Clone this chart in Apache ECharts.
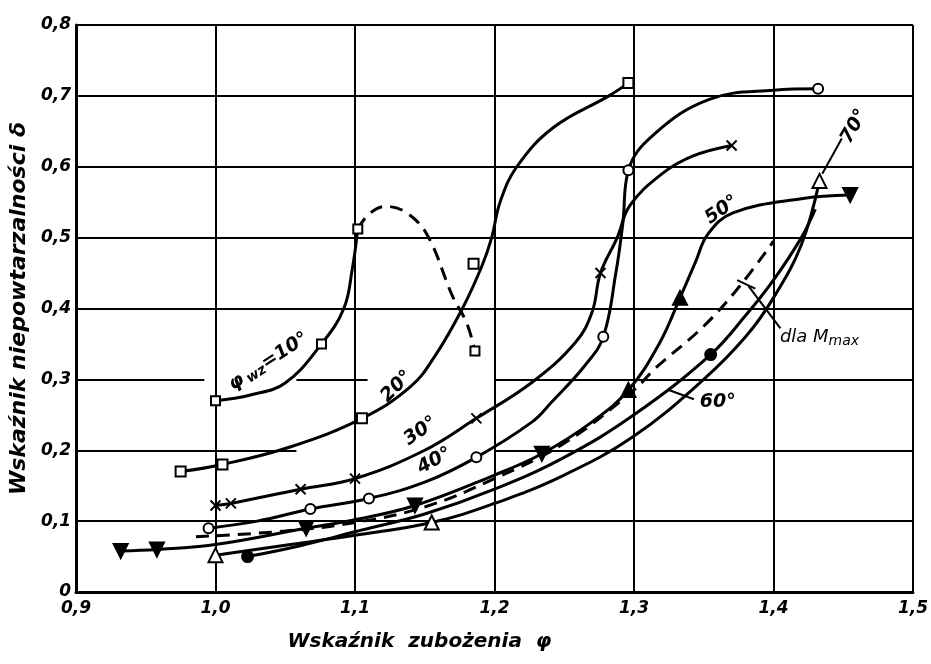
<!DOCTYPE html>
<html>
<head>
<meta charset="utf-8">
<script src="https://cdn.jsdelivr.net/npm/echarts@6/dist/echarts.min.js"></script>
<style>
  html, body { margin: 0; background: #fff; }
  #chart { width: 931px; height: 664px; }
</style>
</head>
<body>
<div id="chart"></div>
<script>
// osie
const xTicks = [0.9, 1.0, 1.1, 1.2, 1.3, 1.4, 1.5]
const yTicks = [0, 0.1, 0.2, 0.3, 0.4, 0.5, 0.6, 0.7, 0.8]
const xTickLabels = ['0,9', '1,0', '1,1', '1,2', '1,3', '1,4', '1,5']
const yTickLabels = ['0', '0,1', '0,2', '0,3', '0,4', '0,5', '0,6', '0,7', '0,8']

// krzywe [φ, δ]
const curve10 = [[1.0, 0.27], [1.025, 0.278], [1.05, 0.295], [1.076, 0.35], [1.092, 0.40], [1.098, 0.455], [1.102, 0.512]]
const curve10Dash = [[1.102, 0.512], [1.11, 0.533], [1.122, 0.544], [1.137, 0.535], [1.152, 0.503], [1.17, 0.417], [1.18, 0.38], [1.186, 0.34]]
const curve20 = [[0.975, 0.17], [1.005, 0.18], [1.054, 0.205], [1.105, 0.245], [1.14, 0.29], [1.158, 0.335], [1.177, 0.40], [1.191, 0.46], [1.198, 0.50], [1.204, 0.55], [1.216, 0.60], [1.242, 0.655], [1.282, 0.70], [1.296, 0.718]]
const curve30 = [[1.0, 0.122], [1.011, 0.125], [1.061, 0.145], [1.1, 0.16], [1.15, 0.2], [1.187, 0.245], [1.227, 0.296], [1.258, 0.352], [1.27, 0.395], [1.276, 0.45], [1.288, 0.5], [1.297, 0.545], [1.32, 0.59], [1.342, 0.615], [1.37, 0.63]]
const curve40 = [[0.995, 0.09], [1.03, 0.1], [1.068, 0.117], [1.11, 0.132], [1.15, 0.155], [1.187, 0.19], [1.227, 0.24], [1.241, 0.268], [1.265, 0.32], [1.278, 0.36], [1.287, 0.45], [1.292, 0.52], [1.296, 0.595], [1.314, 0.645], [1.354, 0.695], [1.4, 0.708], [1.432, 0.71]]
const curve50 = [[0.932, 0.058], [0.958, 0.06], [1.0, 0.067], [1.065, 0.09], [1.1, 0.102], [1.143, 0.122], [1.2, 0.165], [1.234, 0.195], [1.27, 0.24], [1.296, 0.285], [1.318, 0.35], [1.333, 0.415], [1.344, 0.465], [1.353, 0.505], [1.371, 0.535], [1.42, 0.555], [1.455, 0.56]]
const curve60 = [[1.023, 0.05], [1.06, 0.065], [1.1, 0.085], [1.15, 0.11], [1.2, 0.145], [1.25, 0.19], [1.3, 0.25], [1.355, 0.335], [1.38, 0.39], [1.4, 0.44], [1.42, 0.5], [1.43, 0.54]]
const curve70 = [[1.0, 0.052], [1.05, 0.066], [1.1, 0.08], [1.155, 0.098], [1.2, 0.125], [1.25, 0.165], [1.3, 0.22], [1.35, 0.3], [1.38, 0.36], [1.4, 0.415], [1.42, 0.49], [1.433, 0.58]]
const curveMmax = [[0.986, 0.078], [1.05, 0.086], [1.1, 0.098], [1.15, 0.12], [1.2, 0.16], [1.25, 0.21], [1.3, 0.285], [1.315, 0.315], [1.35, 0.375], [1.376, 0.432], [1.4, 0.495]]

// punkty pomiarowe
const marks10 = [[1.0, 0.27], [1.076, 0.35], [1.102, 0.512], [1.186, 0.34]]
const marks20 = [[0.975, 0.17], [1.005, 0.18], [1.105, 0.245], [1.185, 0.463], [1.296, 0.718]]
const marks30 = [[1.0, 0.122], [1.011, 0.125], [1.061, 0.145], [1.1, 0.16], [1.187, 0.245], [1.276, 0.45], [1.37, 0.63]]
const marks40 = [[0.995, 0.09], [1.068, 0.117], [1.11, 0.132], [1.187, 0.19], [1.278, 0.36], [1.296, 0.595], [1.432, 0.71]]
const marks50Down = [[0.932, 0.058], [0.958, 0.06], [1.065, 0.09], [1.143, 0.122], [1.234, 0.195], [1.455, 0.56]]
const marks50Up = [[1.296, 0.285], [1.333, 0.415]]
const marks60 = [[1.023, 0.05], [1.355, 0.335]]
const marks70 = [[1.0, 0.052], [1.155, 0.098], [1.433, 0.58]]

// przerwy w liniach siatki poziomej (miejsce na opisy)
const gridGaps = { 0.2: [[1.058, 1.2]], 0.3: [[0.992, 1.058], [1.109, 1.2]] }

const FONT = '"DejaVu Sans", sans-serif'
const BLACK = '#000'

const chart = echarts.init(document.getElementById('chart'))

const fmt = (labels, ticks) => (v) => {
  const i = ticks.findIndex((t) => Math.abs(t - v) < 1e-6)
  return i >= 0 ? labels[i] : ''
}

const lineSeries = (data, dashed) => ({
  type: 'line',
  data,
  smooth: 0.4,
  symbol: 'none',
  silent: true,
  lineStyle: { color: BLACK, width: 3, type: dashed ? [13, 8] : 'solid' },
  z: 3,
})

const markSeries = (data, symbol, size, filled, extra) => Object.assign({
  type: 'scatter',
  data,
  symbol,
  symbolSize: size,
  silent: true,
  itemStyle: { color: filled ? BLACK : '#fff', borderColor: BLACK, borderWidth: 2, opacity: 1 },
  z: 5,
}, extra || {})

// segmenty siatki poziomej
const gridSegments = []
yTicks.forEach((y) => {
  if (y === 0) return
  const gaps = gridGaps[y] || []
  let start = xTicks[0]
  gaps.forEach(([a, b]) => {
    gridSegments.push({ coords: [[start, y], [a, y]] })
    start = b
  })
  gridSegments.push({ coords: [[start, y], [xTicks[xTicks.length - 1], y]] })
})

// linie odniesienia do opisów
const leaders = [
  { coords: [[1.325, 0.285], [1.343, 0.272]] },
  { coords: [[1.435, 0.59], [1.449, 0.64]] },
  { coords: [[1.382, 0.432], [1.405, 0.372]] },
  { coords: [[1.374, 0.44], [1.387, 0.428]] },
]

const axisFont = { color: BLACK, fontFamily: FONT, fontStyle: 'italic', fontWeight: 'bold', fontSize: 17 }

const option = {
  backgroundColor: '#fff',
  animation: false,
  grid: { left: 70, right: 9, top: 25, bottom: 72 },
  xAxis: {
    type: 'value',
    min: 0.9,
    max: 1.5,
    interval: 0.1,
    name: 'Wskaźnik  zubożenia  φ',
    nameLocation: 'middle',
    nameGap: 40,
    nameTextStyle: Object.assign({}, axisFont, { fontSize: 20, padding: [0, 150, 0, 0] }),
    axisLine: { lineStyle: { color: BLACK, width: 3 } },
    axisTick: { show: false },
    splitLine: { show: true, lineStyle: { color: BLACK, width: 2 } },
    axisLabel: Object.assign({}, axisFont, { margin: 8, formatter: fmt(xTickLabels, xTicks) }),
  },
  yAxis: {
    type: 'value',
    min: 0,
    max: 0.8,
    interval: 0.1,
    name: 'Wskaźnik niepowtarzalności δ',
    nameLocation: 'middle',
    nameGap: 40,
    nameRotate: 90,
    nameTextStyle: Object.assign({}, axisFont, { fontSize: 22 }),
    axisLine: { lineStyle: { color: BLACK, width: 3 } },
    axisTick: { show: false },
    splitLine: { show: false },
    axisLabel: Object.assign({}, axisFont, { margin: 5, formatter: fmt(yTickLabels, yTicks) }),
  },
  series: [
    {
      type: 'lines',
      coordinateSystem: 'cartesian2d',
      silent: true,
      data: gridSegments,
      lineStyle: { color: BLACK, width: 2, opacity: 1 },
      z: 1,
    },
    {
      type: 'lines',
      coordinateSystem: 'cartesian2d',
      silent: true,
      data: leaders,
      lineStyle: { color: BLACK, width: 2, opacity: 1 },
      z: 2,
    },
    lineSeries(curve10),
    lineSeries(curve10Dash, true),
    lineSeries(curve20),
    lineSeries(curve30),
    lineSeries(curve40),
    lineSeries(curve50),
    lineSeries(curve60),
    lineSeries(curve70),
    lineSeries(curveMmax, true),
    markSeries(marks10, 'rect', 9, false),
    markSeries(marks20, 'rect', 10, false),
    markSeries(marks30, 'path://M0,0L10,10M10,0L0,10', 10, false, { itemStyle: { color: 'none', borderColor: BLACK, borderWidth: 2, opacity: 1 } }),
    markSeries(marks40, 'circle', 10, false),
    markSeries(marks50Down, 'triangle', 14, true, { symbolRotate: 180 }),
    markSeries(marks50Up, 'triangle', 14, true),
    markSeries(marks60, 'circle', 11, true),
    markSeries(marks70, 'triangle', 14, false),
  ],
}

chart.setOption(option)

// opisy krzywych (położenie w jednostkach osi)
const notes = [
  { text: '{a|φ} {b|wz}{a|=10°}', at: [1.038, 0.325], rot: 33 },
  { text: '{a|20°}', at: [1.13, 0.29], rot: 45 },
  { text: '{a|30°}', at: [1.147, 0.227], rot: 35 },
  { text: '{a|40°}', at: [1.157, 0.185], rot: 28 },
  { text: '{a|50°}', at: [1.363, 0.539], rot: 35 },
  { text: '{a|60°}', at: [1.36, 0.268], rot: 0 },
  { text: '{a|70°}', at: [1.458, 0.657], rot: 60 },
  { text: '{c|dla M}{d|max}', at: [1.433, 0.36], rot: 0 },
]

const rich = {
  a: { fontFamily: FONT, fontStyle: 'italic', fontWeight: 'bold', fontSize: 19, fill: BLACK },
  b: { fontFamily: FONT, fontStyle: 'italic', fontWeight: 'bold', fontSize: 14, fill: BLACK, padding: [8, 0, 0, 0] },
  c: { fontFamily: FONT, fontStyle: 'italic', fontSize: 18, fill: BLACK },
  d: { fontFamily: FONT, fontStyle: 'italic', fontSize: 14, fill: BLACK, padding: [10, 0, 0, 0] },
}

chart.setOption({
  graphic: notes.map((n) => {
    const [px, py] = chart.convertToPixel({ gridIndex: 0 }, n.at)
    return {
      type: 'text',
      x: px,
      y: py,
      rotation: (n.rot * Math.PI) / 180,
      z: 10,
      silent: true,
      style: { text: n.text, rich, align: 'center', verticalAlign: 'middle', fill: BLACK },
    }
  }),
})
</script>
</body>
</html>
